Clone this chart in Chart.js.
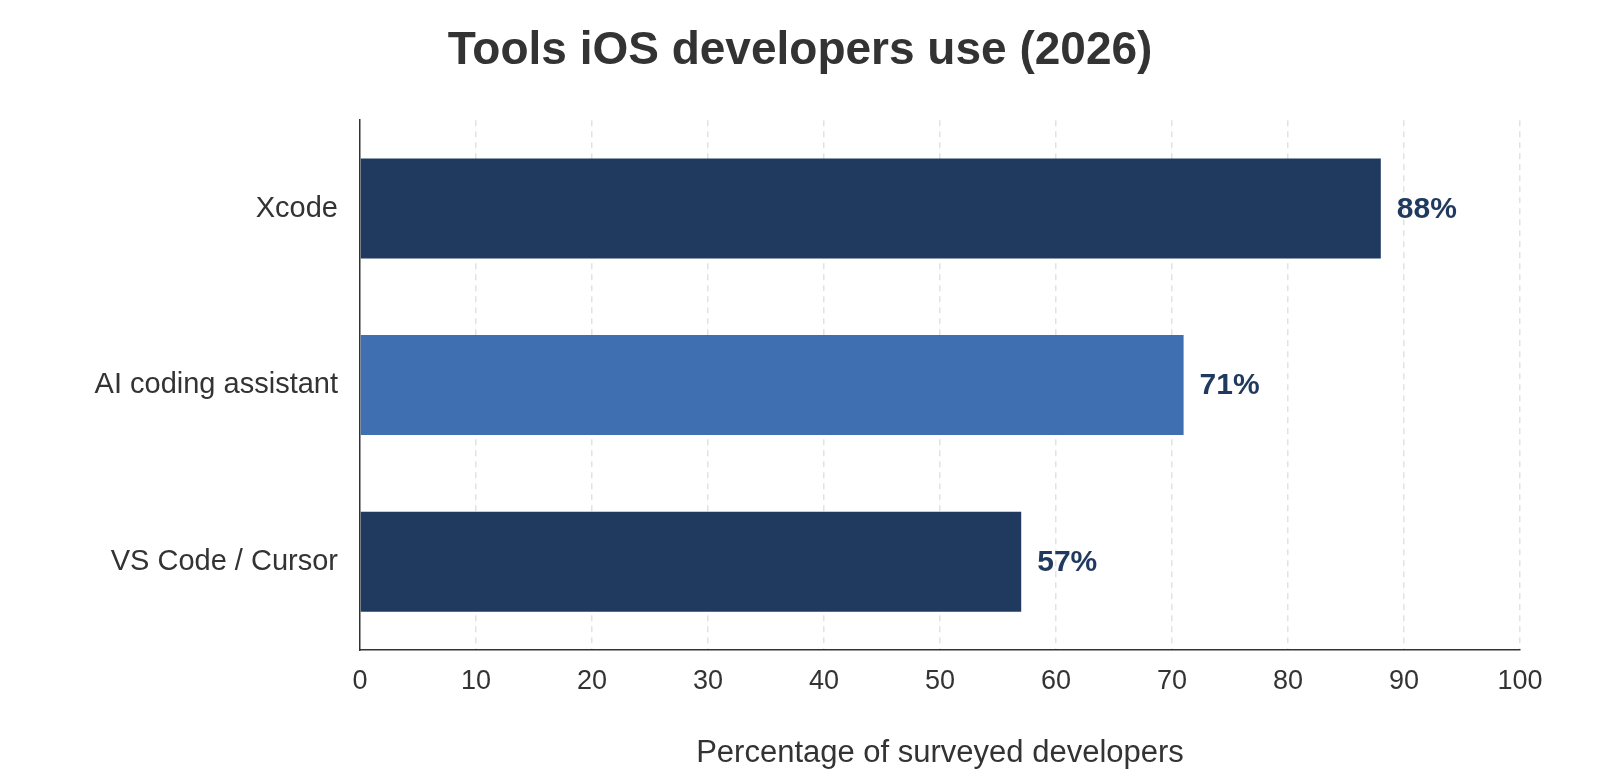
<!DOCTYPE html>
<html>
<head>
<meta charset="utf-8">
<title>Tools iOS developers use (2026)</title>
<script src="https://cdn.jsdelivr.net/npm/chart.js@4.4.1/dist/chart.umd.min.js"></script>
<style>
    html, body { margin: 0; padding: 0; background: #ffffff; }
    #wrap { width: 1600px; height: 780px; position: relative; }
</style>
</head>
<body>
<div id="wrap"><canvas id="toolsChart"></canvas></div>
<script>
// Data
const categories = ['Xcode', 'AI coding assistant', 'VS Code / Cursor'];
const shares = [88, 71, 57];
const barColors = ['#1f3a5e', '#3f6fb0', '#1f3a5e'];
const xTicks = [0, 10, 20, 30, 40, 50, 60, 70, 80, 90, 100];

const TEXT = '#333333';
const NAVY = '#1f3a5e';

Chart.defaults.font.family = '"Liberation Sans", Arial, Helvetica, sans-serif';
Chart.defaults.color = TEXT;

// Value labels at the end of each bar
const valueLabels = {
    id: 'valueLabels',
    afterDatasetsDraw(chart) {
        const ctx = chart.ctx;
        const meta = chart.getDatasetMeta(0);
        ctx.save();
        ctx.font = 'bold 30px "Liberation Sans", Arial, sans-serif';
        ctx.fillStyle = NAVY;
        ctx.textAlign = 'left';
        ctx.textBaseline = 'middle';
        meta.data.forEach((bar, i) => {
            ctx.fillText(shares[i] + '%', bar.x + 16, bar.y + 1);
        });
        ctx.restore();
    }
};

const ctx = document.getElementById('toolsChart').getContext('2d');
const chart = new Chart(ctx, {
    type: 'bar',
    data: {
        labels: categories,
        datasets: [{
            data: shares,
            backgroundColor: barColors,
            borderWidth: 0,
            categoryPercentage: 1,
            barPercentage: 0.566
        }]
    },
    options: {
        indexAxis: 'y',
        responsive: true,
        maintainAspectRatio: false,
        animation: false,
        layout: {
            padding: 0
        },
        plugins: {
            legend: { display: false },
            tooltip: { enabled: false },
            title: {
                display: true,
                text: 'Tools iOS developers use (2026)',
                color: TEXT,
                font: { size: 46, weight: 'bold' },
                padding: { top: 24, bottom: 41 }
            }
        },
        scales: {
            x: {
                min: 0,
                max: 100,
                afterBuildTicks(scale) {
                    scale.ticks = xTicks.map(v => ({ value: v }));
                },
                afterFit(scale) {
                    scale.height = 130;
                },
                border: { display: true, color: TEXT, width: 1.5, dash: [6, 5] },
                grid: {
                    drawTicks: false,
                    color: (c) => c.tick && c.tick.value === 0 ? 'rgba(0,0,0,0)' : '#e2e2e2',
                    lineWidth: 1.5
                },
                ticks: {
                    padding: 15,
                    color: TEXT,
                    font: { size: 27 }
                },
                title: {
                    display: true,
                    text: 'Percentage of surveyed developers',
                    color: TEXT,
                    font: { size: 31 },
                    padding: { top: 8, bottom: 8 }
                }
            },
            y: {
                afterFit(scale) {
                    scale.width = 360;
                },
                border: { display: true, color: TEXT, width: 1.5 },
                grid: { display: false, drawTicks: false },
                ticks: {
                    padding: 22,
                    color: TEXT,
                    font: { size: 29 }
                }
            },
            // empty right-hand spacer so the title stays centred on the page
            spacer: {
                type: 'linear',
                position: 'right',
                display: true,
                afterFit(scale) {
                    scale.width = 80;
                },
                border: { display: false },
                grid: { display: false, drawTicks: false },
                ticks: { display: false }
            }
        }
    },
    plugins: [valueLabels]
});
</script>
</body>
</html>
